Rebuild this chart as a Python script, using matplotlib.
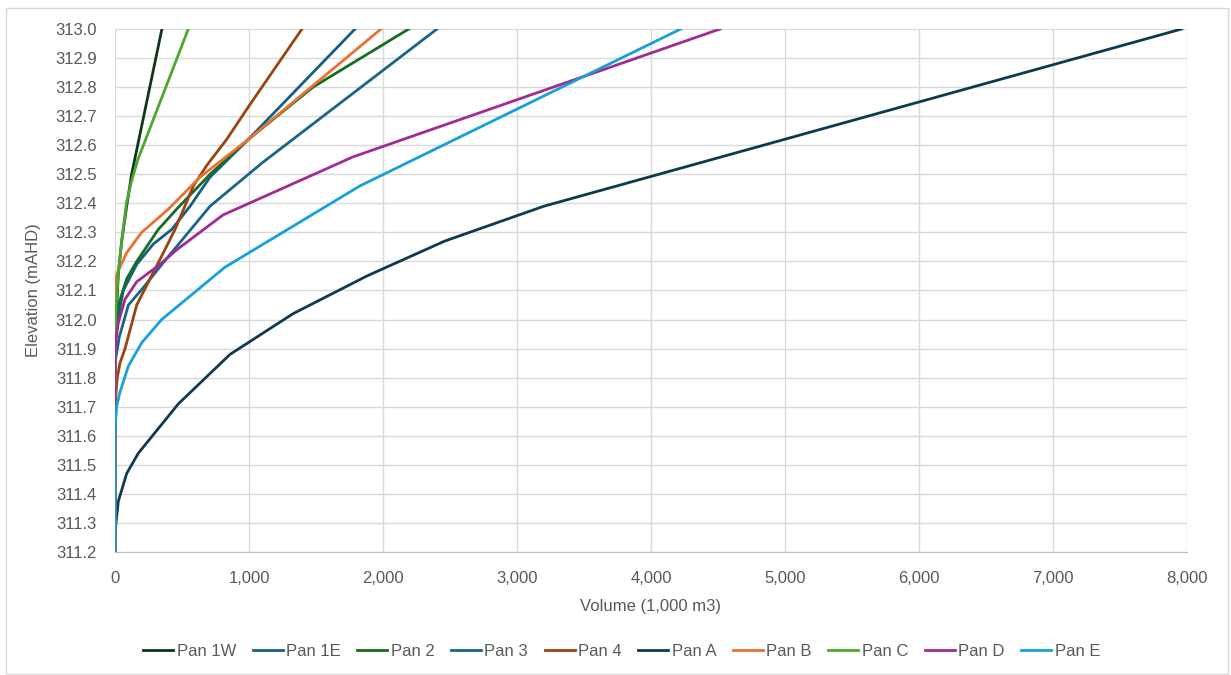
import matplotlib
matplotlib.use('Agg')
import matplotlib.pyplot as plt
from matplotlib.ticker import FuncFormatter, MultipleLocator
from matplotlib.patches import Rectangle

plt.rcParams['font.family'] = ['Liberation Sans', 'DejaVu Sans']

# stage-storage curves, volume in 1,000 m3, elevation in mAHD
pan1w_vol = [0, 0, 5, 12, 25, 50, 87, 124, 350]
pan1w_elev = [311.2, 311.9, 311.95, 312.04, 312.16, 312.27, 312.39, 312.50, 313.0]

pan1e_vol = [0, 0, 20, 62, 162, 286, 423, 560, 709, 995, 1791]
pan1e_elev = [311.2, 311.9, 312.0, 312.10, 312.19, 312.26, 312.31, 312.39, 312.49, 312.62, 313.0]

pan2_vol = [0, 0, 32, 87, 162, 323, 460, 709, 995, 1478, 2192]
pan2_elev = [311.2, 311.99, 312.06, 312.14, 312.20, 312.31, 312.38, 312.50, 312.62, 312.80, 313.0]

pan3_vol = [0, 0, 32, 100, 211, 350, 709, 1100, 2403]
pan3_elev = [311.2, 311.85, 311.94, 312.05, 312.11, 312.19, 312.39, 312.54, 313.0]

pan4_vol = [0, 0, 17, 37, 75, 162, 261, 361, 448, 585, 684, 833, 1007, 1395]
pan4_elev = [311.2, 311.7, 311.8, 311.85, 311.9, 312.05, 312.14, 312.23, 312.31, 312.46, 312.53, 312.62, 312.74, 313.0]

panA_vol = [0, 0, 7, 25, 87, 174, 473, 858, 1328, 1880, 2460, 3200, 7960]
panA_elev = [311.2, 311.25, 311.30, 311.375, 311.47, 311.54, 311.71, 311.88, 312.02, 312.15, 312.27, 312.39, 313.0]

panB_vol = [0, 0, 17, 87, 199, 398, 634, 995, 1985]
panB_elev = [311.2, 312.13, 312.16, 312.23, 312.30, 312.38, 312.49, 312.62, 313.0]

panC_vol = [0, 0, 7, 25, 50, 85, 120, 170, 547]
panC_elev = [311.2, 311.9, 312.04, 312.16, 312.27, 312.40, 312.47, 312.55, 313.0]

panD_vol = [0, 0, 7, 25, 75, 162, 336, 460, 806, 1777, 4515]
panD_elev = [311.2, 311.88, 311.93, 311.99, 312.07, 312.13, 312.19, 312.24, 312.36, 312.56, 313.0]

panE_vol = [0, 0, 12, 37, 100, 199, 348, 820, 1828, 4222]
panE_elev = [311.2, 311.62, 311.70, 311.75, 311.84, 311.92, 312.0, 312.18, 312.46, 313.0]

names = ['Pan 1W', 'Pan 1E', 'Pan 2', 'Pan 3', 'Pan 4', 'Pan A', 'Pan B', 'Pan C', 'Pan D', 'Pan E']
vols = [pan1w_vol, pan1e_vol, pan2_vol, pan3_vol, pan4_vol, panA_vol, panB_vol, panC_vol, panD_vol, panE_vol]
elevs = [pan1w_elev, pan1e_elev, pan2_elev, pan3_elev, pan4_elev, panA_elev, panB_elev, panC_elev, panD_elev, panE_elev]
colors = ['#10361A', '#156082', '#196B24', '#1A6587', '#9B4410', '#0E3A50', '#E97132', '#4EA72E', '#A02B93', '#18A0D8']

fig = plt.figure(figsize=(12.31, 6.75), dpi=100)
ax = fig.add_axes([115/1231, 1-552/675, (1187-115)/1231, (552-29)/675])

for v, e, c, n in zip(vols, elevs, colors, names):
    ax.plot(v, e, color=c, lw=2.0, label=n, solid_joinstyle='round')

ax.set_xlim(0, 8000)
ax.set_ylim(311.2, 313.0)
ax.xaxis.set_major_locator(MultipleLocator(1000))
ax.yaxis.set_major_locator(MultipleLocator(0.1))
ax.xaxis.set_major_formatter(FuncFormatter(lambda x, p: f'{x:,.0f}'))
ax.yaxis.set_major_formatter(FuncFormatter(lambda y, p: f'{y:.1f}'))
ax.grid(True, color='#D9D9D9', lw=1)
ax.set_axisbelow(True)
ax.tick_params(length=0, labelsize=12, colors='#595959')
ax.tick_params(axis='y', pad=13)
ax.tick_params(axis='x', pad=14)
for s in ['top', 'right', 'left']:
    ax.spines[s].set_visible(False)
ax.spines['bottom'].set_color('#BFBFBF')

ax.set_xlabel('Volume (1,000 m3)', fontsize=12, color='#595959', labelpad=9)
ax.set_ylabel('Elevation (mAHD)', fontsize=12, color='#595959', labelpad=10)

fig.legend(loc='center', bbox_to_anchor=(0.505, 1-651/675), ncol=10, frameon=False,
           fontsize=12, handlelength=1.8, handletextpad=0.2, columnspacing=1.0,
           labelcolor='#595959')

fig.patches.append(Rectangle((6/1231, 0.0015), 1222/1231, 1-8/675-0.0015, transform=fig.transFigure,
                             fill=False, edgecolor='#D9D9D9', lw=1))

fig.savefig('out.png', dpi=100)
